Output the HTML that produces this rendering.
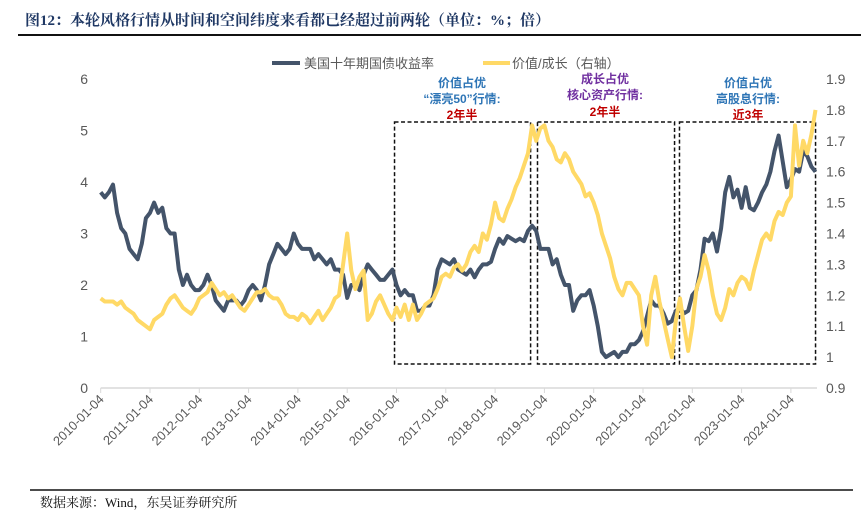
<!DOCTYPE html>
<html><head><meta charset="utf-8"><style>
body{margin:0;background:#fff;width:861px;height:524px;overflow:hidden;font-family:"Liberation Sans","Noto Sans CJK SC",sans-serif}
svg{display:block}
</style></head><body>
<svg id="chart" width="861" height="524" viewBox="0 0 861 524" xmlns="http://www.w3.org/2000/svg">
<text x="25" y="25" font-size="15" font-weight="bold" fill="#1f3864" font-family="'Liberation Serif','Noto Serif CJK SC',serif">图12：本轮风格行情从时间和空间纬度来看都已经超过前两轮（单位：%；倍）</text>
<line x1="18" y1="35" x2="861" y2="35" stroke="#111" stroke-width="2"/>
<g font-size="13" fill="#595959">
<line x1="272" y1="63" x2="300" y2="63" stroke="#44546a" stroke-width="4"/>
<text x="304" y="68">美国十年期国债收益率</text>
<line x1="483" y1="63" x2="510" y2="63" stroke="#ffd966" stroke-width="4"/>
<text x="512" y="68">价值/成长（右轴）</text>
</g>
<g id="axes"></g>
<g id="boxes"></g>
<g id="series"></g>
<g font-size="12" font-weight="bold" text-anchor="middle">
<text x="462" y="87" fill="#2e75b6">价值占优</text>
<text x="462" y="103" fill="#2e75b6">“漂亮50”行情:</text>
<text x="462" y="119" fill="#c00000">2年半</text>
<text x="605" y="83" fill="#7030a0">成长占优</text>
<text x="605" y="99" fill="#7030a0">核心资产行情:</text>
<text x="605" y="116" fill="#c00000">2年半</text>
<text x="748" y="87" fill="#2e75b6">价值占优</text>
<text x="748" y="103" fill="#2e75b6">高股息行情:</text>
<text x="748" y="119" fill="#c00000">近3年</text>
</g>
<line x1="30" y1="490" x2="853" y2="490" stroke="#111" stroke-width="1.5"/>
<text x="40" y="507" font-size="13" fill="#111" font-family="'Liberation Serif','Noto Serif CJK SC',serif">数据来源：Wind，东吴证券研究所</text>
</svg>
<script>
const yearLabels=["2010-01-04","2011-01-04","2012-01-04","2013-01-04","2014-01-04","2015-01-04","2016-01-04","2017-01-04","2018-01-04","2019-01-04","2020-01-04","2021-01-04","2022-01-04","2023-01-04","2024-01-04"];
const leftTicks=[0,1,2,3,4,5,6];
const rightTicks=[0.9,1,1.1,1.2,1.3,1.4,1.5,1.6,1.7,1.8,1.9];
const startYear=2010;
// monthly US 10Y yield, Jan 2010 .. Jul 2024
const yieldValues=[
3.8,3.7,3.8,3.95,3.4,3.1,3.0,2.7,2.6,2.5,2.8,3.3,
3.4,3.6,3.4,3.5,3.1,3.0,3.0,2.3,2.0,2.2,2.0,1.9,
1.9,2.0,2.2,2.0,1.7,1.6,1.5,1.7,1.7,1.7,1.6,1.7,
1.9,2.0,1.9,1.7,2.0,2.4,2.6,2.8,2.7,2.6,2.7,3.0,
2.8,2.7,2.7,2.7,2.5,2.6,2.5,2.4,2.5,2.3,2.3,2.2,
1.75,2.0,2.0,1.9,2.2,2.4,2.3,2.2,2.1,2.1,2.2,2.3,
2.0,1.8,1.9,1.8,1.8,1.5,1.5,1.6,1.6,1.8,2.3,2.5,
2.45,2.4,2.5,2.3,2.25,2.2,2.3,2.15,2.3,2.4,2.4,2.45,
2.7,2.9,2.8,2.95,2.9,2.85,2.9,2.85,3.05,3.15,3.05,2.7,
2.7,2.7,2.4,2.5,2.2,2.0,2.0,1.5,1.7,1.8,1.8,1.9,
1.6,1.2,0.7,0.6,0.65,0.7,0.6,0.7,0.7,0.85,0.85,0.93,
1.1,1.4,1.7,1.6,1.6,1.45,1.25,1.3,1.5,1.55,1.45,1.5,
1.8,1.9,2.3,2.9,2.85,3.0,2.65,3.1,3.8,4.1,3.7,3.85,
3.5,3.9,3.5,3.45,3.6,3.8,3.95,4.2,4.6,4.9,4.4,3.9,
4.05,4.25,4.2,4.6,4.5,4.3,4.2];
// monthly value/growth ratio (right axis)
const ratioValues=[
1.19,1.18,1.18,1.18,1.17,1.18,1.16,1.15,1.14,1.12,1.11,1.10,
1.09,1.12,1.13,1.14,1.17,1.19,1.20,1.18,1.16,1.15,1.14,1.16,
1.19,1.20,1.21,1.24,1.22,1.20,1.21,1.19,1.20,1.18,1.16,1.15,
1.17,1.19,1.21,1.21,1.22,1.20,1.19,1.19,1.17,1.14,1.13,1.13,
1.12,1.14,1.13,1.11,1.13,1.15,1.12,1.14,1.16,1.19,1.20,1.30,
1.40,1.28,1.22,1.26,1.28,1.12,1.14,1.18,1.20,1.17,1.14,1.12,
1.16,1.13,1.17,1.12,1.17,1.12,1.14,1.17,1.18,1.19,1.22,1.26,
1.27,1.26,1.29,1.30,1.28,1.30,1.34,1.36,1.34,1.40,1.38,1.43,
1.50,1.45,1.44,1.48,1.51,1.55,1.58,1.62,1.66,1.75,1.70,1.74,
1.75,1.70,1.68,1.64,1.63,1.66,1.64,1.60,1.58,1.56,1.52,1.53,
1.50,1.46,1.40,1.36,1.32,1.26,1.22,1.20,1.24,1.24,1.22,1.20,
1.10,1.04,1.20,1.26,1.18,1.12,1.06,1.00,1.12,1.19,1.10,1.02,
1.10,1.22,1.26,1.33,1.28,1.20,1.14,1.12,1.16,1.22,1.20,1.24,
1.26,1.25,1.22,1.28,1.33,1.38,1.40,1.38,1.44,1.47,1.46,1.50,
1.52,1.75,1.62,1.70,1.66,1.72,1.80];
// highlighted periods [start year, end year]
const periods=[[2015.96,2018.72],[2018.86,2021.64],[2021.74,2024.5]];

const NS="http://www.w3.org/2000/svg";
const X0=100.7,PXY=49.3,YB=388,YT=79;
const xAt=t=>X0+(t-startYear)*PXY;
const yL=v=>YB-(v-0)/6*(YB-YT);
const yR=v=>YB-(v-0.9)/1.0*(YB-YT);
function mk(tag,attrs,parent){const e=document.createElementNS(NS,tag);for(const k in attrs)e.setAttribute(k,attrs[k]);parent.appendChild(e);return e;}
const axes=document.getElementById('axes'),boxes=document.getElementById('boxes'),series=document.getElementById('series');

let base=mk('line',{x1:X0,y1:YB,x2:817,y2:YB,stroke:'#d9d9d9','stroke-width':1.5},axes);


yearLabels.forEach((lab,i)=>{
  const x=xAt(startYear+i);
  const tk=mk('line',{x1:x,y1:YB,x2:x,y2:YB+5,stroke:'#d9d9d9','stroke-width':1},axes);
  
  
  const t=mk('text',{x:x+4,y:YB+12,'font-size':12.8,fill:'#595959','text-anchor':'end',transform:`rotate(-45 ${x+4} ${YB+12})`},axes);
  
  
  t.textContent=lab;
});
leftTicks.forEach(v=>{
  const t=mk('text',{x:88,y:yL(v)+5,'font-size':14,fill:'#595959','text-anchor':'end'},axes);
  
  
  t.textContent=v;
});
rightTicks.forEach(v=>{
  const t=mk('text',{x:826,y:yR(v)+5,'font-size':14,fill:'#595959'},axes);
  
  
  t.textContent=(Math.round(v*10)/10).toString();
});
periods.forEach(p=>{
  const x1=xAt(p[0]),x2=xAt(p[1]);
  const r=mk('rect',{x:x1,y:122,width:x2-x1,height:242,fill:'none',stroke:'#111','stroke-width':1.5,'stroke-dasharray':'4,2.5'},boxes);
  
  
});
function path(vals,yf){return vals.map((v,i)=>(i?'L':'M')+xAt(startYear+i/12).toFixed(1)+','+yf(v).toFixed(1)).join('');}
const pY=mk('path',{d:path(yieldValues,yL),fill:'none',stroke:'#44546a','stroke-width':4,'stroke-linejoin':'round'},series);


const pR=mk('path',{d:path(ratioValues,yR),fill:'none',stroke:'#ffd966','stroke-width':4,'stroke-linejoin':'round'},series);


</script>
</body></html>
